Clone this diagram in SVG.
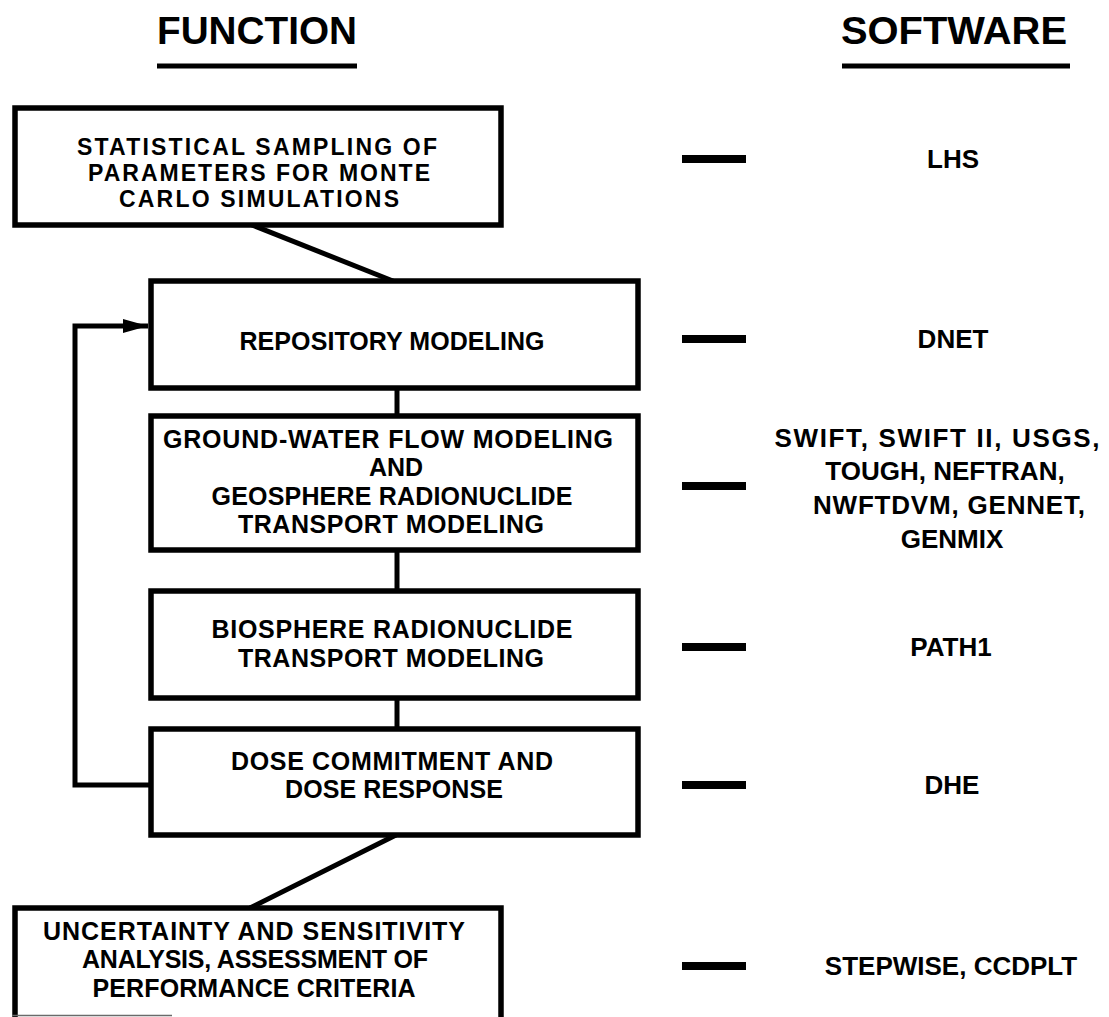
<svg xmlns="http://www.w3.org/2000/svg" width="1109" height="1017" viewBox="0 0 1109 1017">
  <style>
    .bg { fill: #ffffff; }
    .box { fill: #ffffff; stroke: #000000; stroke-width: 5.5; stroke-linejoin: miter; }
    .link { fill: none; stroke: #000000; stroke-width: 5; stroke-linejoin: miter; }
    .rule { stroke: #000000; stroke-width: 5; }
    .dash { stroke: #000000; stroke-width: 8; }
    .head { font-family: "Liberation Sans", Arial, Helvetica, sans-serif; font-weight: bold; font-size: 38px; fill: #000000; text-anchor: middle; }
    .lbl { font-family: "Liberation Sans", Arial, Helvetica, sans-serif; font-weight: bold; font-size: 25px; fill: #000000; text-anchor: middle; }
    .tight { font-size: 23px; }
    .sw { font-family: "Liberation Sans", Arial, Helvetica, sans-serif; font-weight: bold; font-size: 26px; fill: #000000; text-anchor: middle; }
  </style>
  <defs>
    <marker id="arrow" markerUnits="userSpaceOnUse" markerWidth="26" markerHeight="16" refX="25" refY="8" orient="auto">
      <path d="M0,1 L25,8 L0,15 Z" fill="#000000"/>
    </marker>
  </defs>

  <rect class="bg" x="0" y="0" width="1109" height="1017"/>

  <!-- column headings -->
  <g id="heading-function">
    <text class="head" x="257" y="44" textLength="200" lengthAdjust="spacingAndGlyphs">FUNCTION</text>
    <line class="rule" x1="157" y1="66" x2="357" y2="66"/>
  </g>
  <g id="heading-software">
    <text class="head" x="954" y="44" textLength="226" lengthAdjust="spacingAndGlyphs">SOFTWARE</text>
    <line class="rule" x1="842" y1="66" x2="1070" y2="66"/>
  </g>

  <!-- connectors between function boxes, including the feedback loop -->
  <g id="connectors">
    <line class="link" x1="252" y1="225" x2="393" y2="281"/>
    <line class="link" x1="397" y1="388" x2="397" y2="416"/>
    <line class="link" x1="397" y1="550" x2="397" y2="591"/>
    <line class="link" x1="397" y1="698" x2="397" y2="729"/>
    <line class="link" x1="396" y1="835" x2="250" y2="908"/>
    <polyline class="link" points="151,785 75,785 75,326 148,326" marker-end="url(#arrow)"/>
  </g>

  <!-- function boxes -->
  <g id="node-sampling">
    <rect class="box" x="15" y="108" width="486" height="117"/>
    <text class="lbl tight" x="257" y="155" textLength="360">STATISTICAL SAMPLING OF</text>
    <text class="lbl tight" x="259" y="181" textLength="342">PARAMETERS FOR MONTE</text>
    <text class="lbl tight" x="259" y="207" textLength="280">CARLO SIMULATIONS</text>
  </g>

  <g id="node-repository">
    <rect class="box" x="151" y="281" width="487" height="107"/>
    <text class="lbl" x="392" y="350" textLength="305">REPOSITORY MODELING</text>
  </g>

  <g id="node-groundwater">
    <rect class="box" x="151" y="416" width="487" height="134"/>
    <text class="lbl" x="388" y="448" textLength="450">GROUND-WATER FLOW MODELING</text>
    <text class="lbl" x="396" y="476">AND</text>
    <text class="lbl" x="392" y="505" textLength="361">GEOSPHERE RADIONUCLIDE</text>
    <text class="lbl" x="391" y="533" textLength="306">TRANSPORT MODELING</text>
  </g>

  <g id="node-biosphere">
    <rect class="box" x="151" y="591" width="487" height="107"/>
    <text class="lbl" x="392" y="638" textLength="361">BIOSPHERE RADIONUCLIDE</text>
    <text class="lbl" x="391" y="667" textLength="306">TRANSPORT MODELING</text>
  </g>

  <g id="node-dose">
    <rect class="box" x="151" y="729" width="487" height="106"/>
    <text class="lbl" x="392" y="770" textLength="322">DOSE COMMITMENT AND</text>
    <text class="lbl" x="394" y="798" textLength="218">DOSE RESPONSE</text>
  </g>

  <g id="node-uncertainty">
    <rect class="box" x="15" y="908" width="486" height="140"/>
    <line x1="12" y1="1015.5" x2="172" y2="1015.5" stroke="#6a6a6a" stroke-width="1.5"/>
    <text class="lbl" x="254" y="940" textLength="422">UNCERTAINTY AND SENSITIVITY</text>
    <text class="lbl" x="255" y="968" textLength="346">ANALYSIS, ASSESSMENT OF</text>
    <text class="lbl" x="254" y="997" textLength="323">PERFORMANCE CRITERIA</text>
  </g>

  <!-- software column: a short bar and the programs used for each function -->
  <g id="software-lhs">
    <line class="dash" x1="682" y1="159" x2="746" y2="159"/>
    <text class="sw" x="953" y="168">LHS</text>
  </g>
  <g id="software-dnet">
    <line class="dash" x1="682" y1="339" x2="746" y2="339"/>
    <text class="sw" x="953" y="348">DNET</text>
  </g>
  <g id="software-flow">
    <line class="dash" x1="682" y1="486" x2="746" y2="486"/>
    <text class="sw" x="937" y="447" textLength="325">SWIFT, SWIFT II, USGS,</text>
    <text class="sw" x="945" y="480">TOUGH, NEFTRAN,</text>
    <text class="sw" x="949" y="514" textLength="272">NWFTDVM, GENNET,</text>
    <text class="sw" x="952" y="548">GENMIX</text>
  </g>
  <g id="software-path1">
    <line class="dash" x1="682" y1="647" x2="746" y2="647"/>
    <text class="sw" x="951" y="656">PATH1</text>
  </g>
  <g id="software-dhe">
    <line class="dash" x1="682" y1="785" x2="746" y2="785"/>
    <text class="sw" x="952" y="794">DHE</text>
  </g>
  <g id="software-stepwise">
    <line class="dash" x1="682" y1="966" x2="746" y2="966"/>
    <text class="sw" x="951" y="975">STEPWISE, CCDPLT</text>
  </g>
</svg>
